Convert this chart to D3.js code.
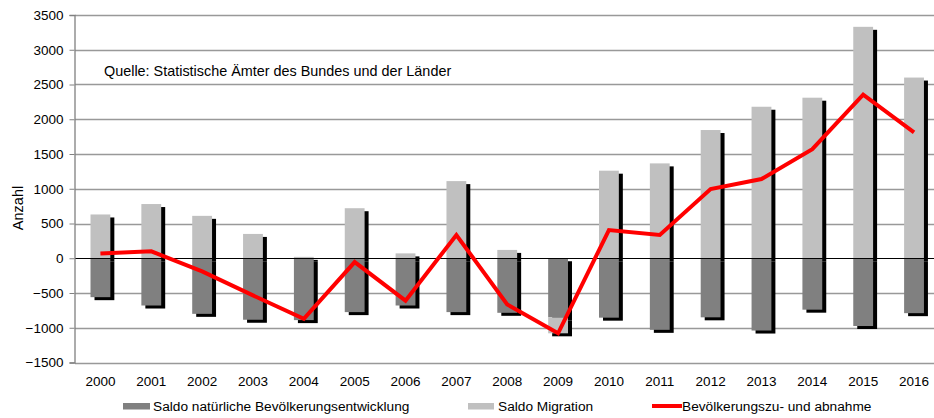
<!DOCTYPE html>
<html>
<head>
<meta charset="utf-8">
<script src="https://cdn.jsdelivr.net/npm/d3@7"></script>
<style>
  html, body { margin: 0; padding: 0; background: #fff; }
  svg { display: block; font-family: "Liberation Sans", Arial, sans-serif; }
</style>
</head>
<body>
<svg id="chart" width="934" height="418"></svg>
<script>
const years = ["2000","2001","2002","2003","2004","2005","2006","2007","2008","2009","2010","2011","2012","2013","2014","2015","2016"];
const natural = [-560,-680,-800,-885,-890,-775,-680,-775,-785,-850,-855,-1030,-850,-1040,-740,-975,-790];
const migration = [630,780,610,350,20,720,70,1110,120,-230,1260,1365,1845,2180,2310,3330,2600];
const total = [70,100,-190,-535,-870,-55,-610,335,-665,-1080,405,335,995,1140,1570,2355,1810];
const yTicks = [-1500,-1000,-500,0,500,1000,1500,2000,2500,3000,3500];
const seriesNames = ["Saldo natürliche Bevölkerungsentwicklung","Saldo Migration","Bevölkerungszu- und abnahme"];

const colNatural = "#808080", colMigration = "#c0c0c0", colLine = "#ff0000";

const svg = d3.select("#chart");
const left = 75, right = 75 + 17 * 50.85;
const x = d3.scaleBand().domain(years).range([left, right]).paddingInner(0.61).paddingOuter(0.305);
const xc = d => x(d) + x.bandwidth() / 2;
const y = d3.scaleLinear().domain([-1500, 3500]).range([362.5, 15]);

// gridlines
svg.append("g").selectAll("line").data(yTicks.filter(t => t !== 0)).join("line")
  .attr("x1", left).attr("x2", 934)
  .attr("y1", d => Math.round(y(d)) + 0.5).attr("y2", d => Math.round(y(d)) + 0.5)
  .attr("stroke", "#999").attr("stroke-width", 1.3);

// stacked data
const rows = years.map((yr, i) => ({ year: yr, natural: natural[i], migration: migration[i] }));
const stack = d3.stack().keys(["natural", "migration"]).offset(d3.stackOffsetDiverging);
const stacked = stack(rows);
const colors = { natural: colNatural, migration: colMigration };

// shadows
const shadowG = svg.append("g");
stacked.forEach(s => {
  shadowG.selectAll(null).data(s).join("rect")
    .attr("x", d => x(d.data.year) + 4)
    .attr("y", d => y(Math.max(d[0], d[1])) + 3)
    .attr("width", x.bandwidth())
    .attr("height", d => Math.abs(y(d[0]) - y(d[1])))
    .attr("fill", "#000");
});
// bars
const barG = svg.append("g");
stacked.forEach(s => {
  barG.selectAll(null).data(s).join("rect")
    .attr("x", d => x(d.data.year))
    .attr("y", d => y(Math.max(d[0], d[1])))
    .attr("width", x.bandwidth())
    .attr("height", d => Math.abs(y(d[0]) - y(d[1])))
    .attr("fill", colors[s.key]);
});

// zero line
svg.append("line").attr("x1", left).attr("x2", 934)
  .attr("y1", Math.round(y(0)) + 0.5).attr("y2", Math.round(y(0)) + 0.5)
  .attr("stroke", "#000").attr("stroke-width", 1);

// left axis
const yAxis = d3.axisLeft(y).tickValues(yTicks).tickSize(5).tickPadding(6).tickFormat(d3.format("d"));
const ya = svg.append("g").attr("transform", `translate(${left - 0.5},0)`).call(yAxis);
ya.select(".domain").attr("stroke", "#808080").attr("stroke-width", 1.3);
ya.selectAll(".tick line").attr("stroke", "#808080");
ya.selectAll(".tick text").attr("font-size", "13.5px").attr("fill", "#000")
  .attr("font-family", "Liberation Sans, Arial, sans-serif");

// x axis labels
const xAxis = d3.axisBottom(x).tickSize(0).tickPadding(14);
const xa = svg.append("g").attr("transform", `translate(0,${y(-1500)})`).call(xAxis);
xa.select(".domain").remove();
xa.selectAll(".tick text").attr("font-size", "13.5px").attr("fill", "#000")
  .attr("font-family", "Liberation Sans, Arial, sans-serif");

// total line
const line = d3.line().x((d, i) => xc(years[i])).y(d => y(d));
svg.append("path").datum(total).attr("d", line)
  .attr("fill", "none").attr("stroke", colLine).attr("stroke-width", 4)
  .attr("stroke-linejoin", "miter");

// y title
svg.append("text").attr("transform", "translate(23,208) rotate(-90)")
  .attr("text-anchor", "middle").attr("font-size", "14.5px").text("Anzahl");

// source note
svg.append("text").attr("x", 104).attr("y", 76).attr("font-size", "14.4px").text("Quelle: Statistische Ämter des Bundes und der Länder");

// legend
const lg = svg.append("g");
lg.append("rect").attr("x", 123).attr("y", 403).attr("width", 27).attr("height", 6.5).attr("fill", colNatural);
lg.append("text").attr("x", 153).attr("y", 411).attr("font-size", "13.7px").text(seriesNames[0]);
lg.append("rect").attr("x", 468).attr("y", 403).attr("width", 26).attr("height", 6.5).attr("fill", colMigration);
lg.append("text").attr("x", 498).attr("y", 411).attr("font-size", "13.7px").text(seriesNames[1]);
lg.append("line").attr("x1", 652).attr("x2", 682).attr("y1", 406).attr("y2", 406)
  .attr("stroke", colLine).attr("stroke-width", 4);
lg.append("text").attr("x", 682).attr("y", 411).attr("font-size", "13.7px").text(seriesNames[2]);
</script>
</body>
</html>
